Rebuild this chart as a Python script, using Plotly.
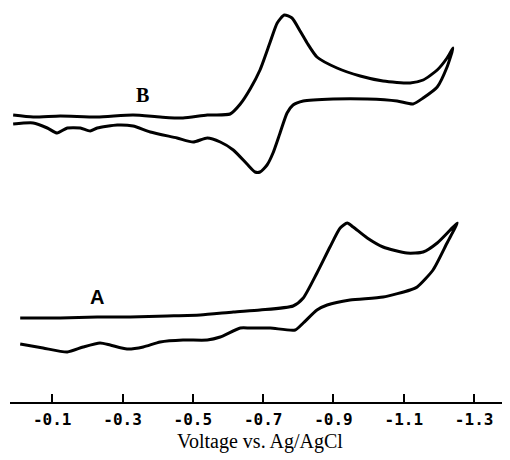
import plotly.graph_objects as go

# Curve B (forward scan then return scan), voltage in V vs Ag/AgCl, current in arbitrary units
b_fwd_v = [0.011, -0.046, -0.123, -0.228, -0.330, -0.407, -0.472, -0.541, -0.606, -0.635, -0.663,
           -0.691, -0.720, -0.740, -0.760, -0.782, -0.805, -0.825, -0.853, -0.910, -0.976, -1.041,
           -1.118, -1.155, -1.195, -1.223, -1.240]
b_fwd_i = [28.7, 28.5, 28.6, 28.5, 28.7, 28.5, 28.4, 28.7, 28.8, 29.8, 31.3,
           33.2, 36.0, 37.9, 38.7, 38.4, 37.1, 35.9, 34.5, 33.4, 32.6, 32.1,
           31.9, 32.2, 33.2, 34.4, 35.4]
b_ret_v = [-1.223, -1.195, -1.155, -1.126, -1.081, -0.996, -0.899, -0.814, -0.785, -0.768, -0.748,
           -0.728, -0.711, -0.691, -0.677, -0.654, -0.615, -0.578, -0.541, -0.501, -0.455, -0.379,
           -0.330, -0.285, -0.228, -0.208, -0.180, -0.143, -0.114, -0.086, -0.046, 0.011]
b_ret_i = [33.5, 31.5, 30.4, 29.8, 30.1, 30.3, 30.3, 30.1, 29.7, 28.9, 26.9,
           24.9, 23.7, 23.0, 23.0, 23.8, 25.2, 26.0, 26.4, 26.0, 26.4, 27.0,
           27.6, 27.7, 27.4, 27.1, 27.4, 27.4, 26.9, 27.4, 27.9, 27.8]

# Curve A
a_fwd_v = [-0.009, -0.123, -0.228, -0.322, -0.427, -0.521, -0.615, -0.691, -0.785, -0.814, -0.853,
           -0.890, -0.919, -0.939, -0.956, -0.996, -1.041, -1.109, -1.155, -1.195, -1.232, -1.252]
a_fwd_i = [8.4, 8.4, 8.5, 8.5, 8.6, 8.7, 9.0, 9.2, 9.6, 10.4, 12.9,
           15.5, 17.4, 17.9, 17.5, 16.4, 15.5, 14.9, 15.0, 15.9, 17.2, 17.9]
a_ret_v = [-1.223, -1.183, -1.138, -1.118, -1.041, -0.947, -0.882, -0.853, -0.814, -0.791, -0.720,
           -0.663, -0.635, -0.578, -0.541, -0.472, -0.407, -0.359, -0.313, -0.265, -0.236, -0.188,
           -0.143, -0.074, -0.009]
a_ret_i = [15.9, 13.2, 11.5, 11.2, 10.5, 10.2, 9.7, 9.2, 7.9, 7.2, 7.4,
           7.4, 7.4, 6.5, 6.2, 6.2, 6.0, 5.5, 5.3, 5.7, 5.9, 5.5,
           5.0, 5.4, 5.8]

tick_vals = [-0.1, -0.3, -0.5, -0.7, -0.9, -1.1, -1.3]
tick_text = ["-0.1", "-0.3", "-0.5", "-0.7", "-0.9", "-1.1", "-1.3"]

curve_labels = ["B", "A"]
label_fonts = ["Liberation Serif", "Liberation Sans"]
label_v = [-0.356, -0.228]
label_i = [30.7, 10.5]

fig = go.Figure()
line = dict(color="black", width=3, shape="spline", smoothing=0.6)
fig.add_trace(go.Scatter(x=b_fwd_v + b_ret_v, y=b_fwd_i + b_ret_i, mode="lines", line=line))
fig.add_trace(go.Scatter(x=a_fwd_v + a_ret_v, y=a_fwd_i + a_ret_i, mode="lines", line=line))

for t, fam, xv, yv in zip(curve_labels, label_fonts, label_v, label_i):
    fig.add_annotation(x=xv, y=yv, text=t, showarrow=False,
                       font=dict(family=fam, size=20, color="black", weight="bold"))

fig.update_layout(
    width=502, height=452,
    margin=dict(l=2, r=0, t=0, b=58, autoexpand=False),
    paper_bgcolor="white", plot_bgcolor="white",
    showlegend=False,
    xaxis=dict(
        range=[0.02, -1.402], showgrid=False, zeroline=False,
        showline=True, linecolor="black", linewidth=2,
        ticks="inside", ticklen=8, tickwidth=1.5, tickcolor="black",
        tickvals=tick_vals, ticktext=tick_text, ticklabelstandoff=2,
        tickfont=dict(family="DejaVu Sans Mono", size=16, color="black", weight="bold"),
        title=dict(text="Voltage vs. Ag/AgCl", standoff=6,
                   font=dict(family="Liberation Serif", size=20, color="black")),
    ),
    yaxis=dict(range=[0, 39.4], visible=False),
)

fig.write_html("out.html")
